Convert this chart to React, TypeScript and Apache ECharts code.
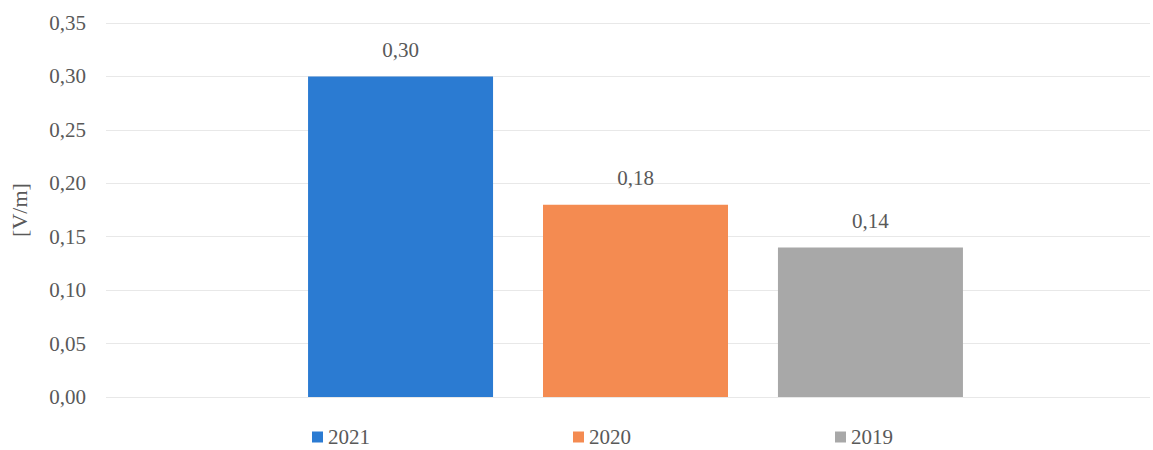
import React, { useEffect, useRef } from "react";
import * as echarts from "echarts";

const categories = ["V/m"];
const seriesNames = ["2021", "2020", "2019"];
const values2021 = [0.3];
const values2020 = [0.18];
const values2019 = [0.14];
const colors = ["#2b7bd2", "#f48b51", "#a8a8a8"];

const fmt = (v: number) => v.toFixed(2).replace(".", ",");
const FONT = "Liberation Serif, serif";
const TXT = "#595959";

export default function App() {
  const ref = useRef<HTMLDivElement>(null);
  useEffect(() => {
    if (!ref.current) return;
    const chart = echarts.init(ref.current, null, { renderer: "svg" });
    const data = [values2021, values2020, values2019];
    const legendLefts = [312, 573, 835];
    chart.setOption({
      animation: false,
      textStyle: { fontFamily: FONT },
      grid: [
        { left: 103, right: 3, top: 23, bottom: 53 },
        { left: 118, right: 0, top: 23, bottom: 53 },
      ],
      legend: seriesNames.map((n, i) => ({
        data: [n],
        left: legendLefts[i],
        top: 426,
        padding: 0,
        itemWidth: 11,
        itemHeight: 11,
        itemGap: 0,
        icon: "rect",
        textStyle: { fontFamily: FONT, fontSize: 21, color: TXT, lineHeight: 22 },
      })),
      xAxis: [
        {
          type: "category",
          gridIndex: 0,
          data: categories,
          axisLine: { show: false },
          axisTick: { show: false },
          axisLabel: { show: false },
        },
        {
          type: "category",
          gridIndex: 1,
          data: categories,
          axisLine: { show: false },
          axisTick: { show: false },
          axisLabel: { show: false },
        },
      ],
      yAxis: [
        {
          type: "value",
          gridIndex: 0,
          min: 0,
          max: 0.35,
          interval: 0.05,
          name: "[V/m]",
          nameLocation: "middle",
          nameGap: 76,
          nameTextStyle: { fontFamily: FONT, fontSize: 22, color: TXT },
          axisLabel: {
            formatter: (v: number) => fmt(v),
            fontFamily: FONT,
            fontSize: 21,
            color: TXT,
            margin: 20,
          },
          splitLine: { lineStyle: { color: "#e8e8e8", width: 1 } },
          axisLine: { show: false },
          axisTick: { show: false },
        },
        {
          type: "value",
          gridIndex: 1,
          min: 0,
          max: 0.35,
          interval: 0.05,
          axisLabel: { show: false },
          splitLine: { show: false },
          axisLine: { show: false },
          axisTick: { show: false },
        },
      ],
      series: seriesNames.map((n, i) => ({
        name: n,
        type: "bar",
        xAxisIndex: 1,
        yAxisIndex: 1,
        data: data[i],
        barWidth: 185,
        barGap: "27%",
        itemStyle: { color: colors[i] },
        label: {
          show: true,
          position: "top",
          distance: 16,
          formatter: (p: any) => fmt(p.value),
          fontFamily: FONT,
          fontSize: 21,
          color: TXT,
        },
      })),
    });
    return () => chart.dispose();
  }, []);
  return (
    <div
      ref={ref}
      style={{ position: "fixed", left: 0, top: 0, width: 1153, height: 450, background: "#fff" }}
    />
  );
}
